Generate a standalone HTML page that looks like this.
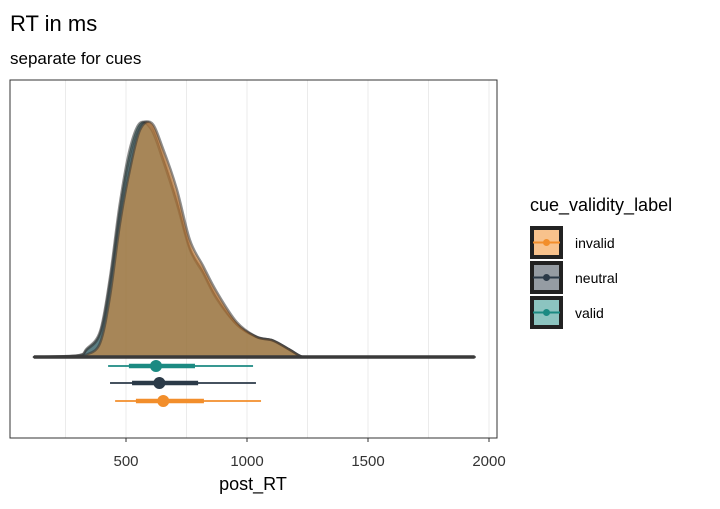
<!DOCTYPE html>
<html><head><meta charset="utf-8"><style>
body{margin:0;background:#fff;font-family:"Liberation Sans",sans-serif}
</style></head><body>
<svg id="c" width="720" height="504" xmlns="http://www.w3.org/2000/svg">
<rect width="720" height="504" fill="#fff"/>
<text x="10" y="31" font-size="22" fill="#000">RT in ms</text>
<text x="10" y="64" font-size="17" fill="#000">separate for cues</text>
<g id="grid"></g>
<g id="dens"></g>
<g id="ints"></g>
<rect x="10" y="80" width="487" height="358" fill="none" stroke="#333" stroke-width="1"/>
<g id="xt"></g>
<text x="253" y="490" font-size="18" text-anchor="middle">post_RT</text>
<g id="leg"></g>
</svg>
<script>
const ms = [120,300,337,393,434,475,516,558,606,653,709,764,818,874,957,1040,1108,1178,1232,1300,1940];
const invalidD = [0,0.004,0.01,0.06,0.26,0.57,0.8,0.97,1.0,0.89,0.72,0.5,0.39,0.28,0.15,0.086,0.07,0.03,0,0,0];
const neutralD = [0,0.006,0.03,0.1,0.32,0.63,0.86,0.99,0.99,0.86,0.68,0.47,0.37,0.26,0.14,0.086,0.07,0.03,0,0,0];
const validD   = [0,0.007,0.035,0.11,0.34,0.66,0.89,1.0,0.97,0.84,0.66,0.46,0.36,0.25,0.14,0.085,0.07,0.03,0,0,0];
const xTicks = [500,1000,1500,2000];
const xMinor = [250,750,1250,1750];
const groups = ['valid','neutral','invalid'];
const points = [624,638,654];
const thickLo = [512,525,541], thickHi = [785,798,822];
const thinLo = [426,434,455], thinHi = [1025,1037,1058];
const colors = {valid:'#1b8a82',neutral:'#2b3a48',invalid:'#f28e2b'};
const fills = {valid:'#8cc4c0',neutral:'#959ca3',invalid:'#f8c28c'};
const X = v => 5 + 0.242*v;
const base = 357, H = 234;
const Y = d => base - d*H;
const ns='http://www.w3.org/2000/svg';
function mk(t,a,p){const e=document.createElementNS(ns,t);for(const k in a)e.setAttribute(k,a[k]);p.appendChild(e);return e;}
function smooth(pts){let d='M'+pts[0][0].toFixed(1)+','+pts[0][1].toFixed(1);
for(let i=0;i<pts.length-1;i++){const p0=pts[Math.max(i-1,0)],p1=pts[i],p2=pts[i+1],p3=pts[Math.min(i+2,pts.length-1)];
let c1y=p1[1]+(p2[1]-p0[1])/6,c2y=p2[1]-(p3[1]-p1[1])/6;c1y=Math.min(c1y,base);c2y=Math.min(c2y,base);
d+=' C'+(p1[0]+(p2[0]-p0[0])/6).toFixed(1)+','+c1y.toFixed(1)+' '+(p2[0]-(p3[0]-p1[0])/6).toFixed(1)+','+c2y.toFixed(1)+' '+p2[0].toFixed(1)+','+p2[1].toFixed(1);}
return d;}
const grid=document.getElementById('grid');
xMinor.concat(xTicks).forEach(v=>{const l=mk('line',{x1:X(v),x2:X(v),y1:80,y2:438,stroke:'#ebebeb','stroke-width':1},grid);

});
const dens=document.getElementById('dens');
const dd={valid:validD,neutral:neutralD,invalid:invalidD};
groups.forEach(g=>{const pts=ms.map((m,i)=>[X(m),Y(dd[g][i])]);const d=smooth(pts)+' Z';
const p=mk('path',{d:d,fill:colors[g],'fill-opacity':0.5,stroke:'#333','stroke-opacity':0.55,'stroke-width':2.5,'stroke-linejoin':'round'},dens);

});
const bl=mk('line',{x1:X(ms[0]),x2:X(ms[ms.length-1]),y1:base,y2:base,stroke:'#3a3a3a','stroke-width':3.5},dens);


const ints=document.getElementById('ints');
const ys=[366,383,401];
groups.forEach((g,i)=>{const gg=mk('g',{},ints);


mk('line',{x1:X(thinLo[i]),x2:X(thinHi[i]),y1:ys[i],y2:ys[i],stroke:colors[g],'stroke-width':1.7},gg);
mk('line',{x1:X(thickLo[i]),x2:X(thickHi[i]),y1:ys[i],y2:ys[i],stroke:colors[g],'stroke-width':4.5},gg);
mk('circle',{cx:X(points[i]),cy:ys[i],r:6,fill:colors[g]},gg);});
const xt=document.getElementById('xt');
xTicks.forEach(v=>{const l=mk('line',{x1:X(v),x2:X(v),y1:438,y2:442,stroke:'#333'},xt);


const t=mk('text',{x:X(v),y:466,'font-size':15,'text-anchor':'middle',fill:'#333'},xt);t.textContent=v;

});
const leg=document.getElementById('leg');
const lt=mk('text',{x:530,y:211,'font-size':18},leg);lt.textContent='cue_validity_label';


['invalid','neutral','valid'].forEach((g,i)=>{const y0=226+i*35;const e=mk('g',{},leg);


mk('rect',{x:532,y:y0+2,width:29,height:29,fill:fills[g],stroke:'#222','stroke-width':4},e);
mk('line',{x1:533,x2:560,y1:y0+16.5,y2:y0+16.5,stroke:colors[g],'stroke-width':2},e);
mk('circle',{cx:546.5,cy:y0+16.5,r:3.5,fill:colors[g]},e);
const t=mk('text',{x:575,y:y0+22,'font-size':14},e);t.textContent=g;});
</script>
</body></html>
